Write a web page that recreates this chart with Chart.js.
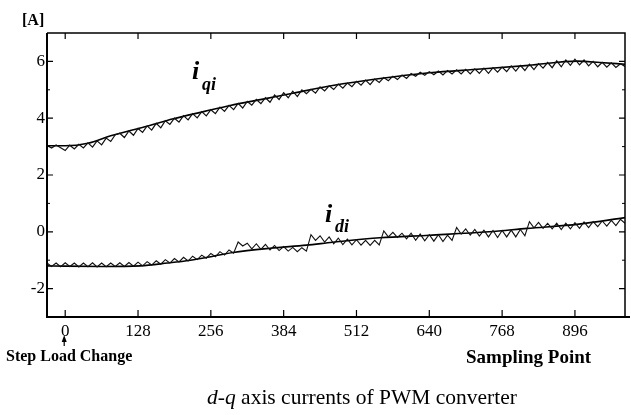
<!DOCTYPE html>
<html lang="en">
<head>
  <meta charset="UTF-8">
  <title>d-q axis currents of PWM converter</title>
  <script src="https://cdn.jsdelivr.net/npm/chart.js"></script>
  <style>
    body {
      margin: 0;
      padding: 0;
      background: #fff;
      overflow: hidden;
    }
    #wrap { width: 631px; height: 415px; }
  </style>
</head>
<body>
  <div id="wrap"><canvas id="chart" width="631" height="415"></canvas></div>

  <script>
    // axis ticks
    const xTicks = [0, 128, 256, 384, 512, 640, 768, 896];
    const yTicks = [-2, 0, 2, 4, 6];
    const yMinor = [-1, 1, 3, 5];

    // sampling points of the measured traces
    const sampleX = [
      -32, -24, -16, -8, 0, 8, 16, 24, 32, 40, 48, 56, 64, 72, 80, 88,
      96, 104, 112, 120, 128, 136, 144, 152, 160, 168, 176, 184, 192, 200, 208, 216,
      224, 232, 240, 248, 256, 264, 272, 280, 288, 296, 304, 312, 320, 328, 336, 344,
      352, 360, 368, 376, 384, 392, 400, 408, 416, 424, 432, 440, 448, 456, 464, 472,
      480, 488, 496, 504, 512, 520, 528, 536, 544, 552, 560, 568, 576, 584, 592, 600,
      608, 616, 624, 632, 640, 648, 656, 664, 672, 680, 688, 696, 704, 712, 720, 728,
      736, 744, 752, 760, 768, 776, 784, 792, 800, 808, 816, 824, 832, 840, 848, 856,
      864, 872, 880, 888, 896, 904, 912, 920, 928, 936, 944, 952, 960, 968, 976, 984
    ];

    // measured q-axis current (with ripple)
    const iqiMeasured = [
      3.05, 2.95, 3.06, 2.96, 2.86, 3.05, 2.92, 3.08, 2.95, 3.13, 2.98, 3.20, 3.06, 3.30, 3.18, 3.42,
      3.47, 3.32, 3.55, 3.40, 3.64, 3.50, 3.73, 3.58, 3.82, 3.66, 3.91, 3.78, 4.00, 3.86, 4.09, 3.94,
      4.16, 4.01, 4.23, 4.08, 4.30, 4.16, 4.39, 4.24, 4.45, 4.30, 4.52, 4.36, 4.59, 4.46, 4.66, 4.51,
      4.72, 4.56, 4.82, 4.66, 4.90, 4.72, 4.95, 4.76, 5.00, 4.86, 5.02, 4.88, 5.10, 4.96, 5.14, 5.01,
      5.20, 5.06, 5.24, 5.11, 5.30, 5.16, 5.34, 5.18, 5.38, 5.26, 5.43, 5.32, 5.48, 5.36, 5.52, 5.40,
      5.57, 5.48, 5.62, 5.51, 5.64, 5.53, 5.66, 5.52, 5.68, 5.56, 5.70, 5.56, 5.72, 5.56, 5.74, 5.58,
      5.76, 5.58, 5.78, 5.62, 5.80, 5.64, 5.84, 5.66, 5.86, 5.68, 5.90, 5.71, 5.92, 5.76, 5.96, 5.78,
      6.02, 5.81, 6.05, 5.86, 6.08, 5.88, 6.05, 5.84, 6.00, 5.81, 5.97, 5.80, 5.95, 5.79, 5.92, 5.82
    ];

    // measured d-axis current (with ripple)
    const idiMeasured = [
      -1.10, -1.22, -1.10, -1.23, -1.09, -1.22, -1.10, -1.24, -1.10, -1.23, -1.09, -1.24, -1.10, -1.23, -1.10, -1.22,
      -1.09, -1.22, -1.08, -1.21, -1.07, -1.20, -1.05, -1.17, -1.02, -1.14, -0.98, -1.10, -0.94, -1.06, -0.90, -1.03,
      -0.86, -0.98, -0.82, -0.93, -0.76, -0.88, -0.70, -0.82, -0.64, -0.75, -0.36, -0.50, -0.40, -0.60, -0.42, -0.62,
      -0.44, -0.64, -0.48, -0.66, -0.52, -0.68, -0.55, -0.70, -0.56, -0.68, -0.10, -0.30, -0.14, -0.36, -0.18, -0.42,
      -0.22, -0.45, -0.26, -0.46, -0.28, -0.47, -0.30, -0.48, -0.30, -0.46, 0.03, -0.18, -0.02, -0.20, -0.05, -0.25,
      -0.05, -0.30, -0.08, -0.32, -0.10, -0.33, -0.10, -0.34, -0.12, -0.30, 0.15, -0.08, 0.10, -0.12, 0.08, -0.15,
      0.06, -0.18, 0.05, -0.20, 0.05, -0.18, 0.06, -0.18, 0.08, -0.14, 0.36, 0.14, 0.33, 0.12, 0.30, 0.10,
      0.30, 0.08, 0.30, 0.10, 0.32, 0.12, 0.35, 0.15, 0.36, 0.18, 0.38, 0.20, 0.40, 0.22, 0.44, 0.30
    ];

    // reference (command) currents, smooth
    const iqiRefX = [-32, 0, 40, 80, 140, 190, 245, 290, 350, 400, 470, 550, 640, 730, 815, 900, 940, 984];
    const iqiRefY = [3.03, 3.03, 3.12, 3.38, 3.70, 3.98, 4.24, 4.45, 4.68, 4.88, 5.15, 5.39, 5.60, 5.73, 5.86, 6.01, 5.96, 5.90];
    const idiRefX = [-32, 0, 64, 132, 180, 220, 260, 295, 360, 424, 470, 553, 640, 745, 812, 903, 984];
    const idiRefY = [-1.20, -1.21, -1.22, -1.20, -1.10, -1.00, -0.86, -0.73, -0.58, -0.47, -0.37, -0.21, -0.12, 0.00, 0.12, 0.27, 0.50];

    const SERIF = '"Liberation Serif", "DejaVu Serif", serif';

    function pairs(xs, ys) {
      return xs.map((x, i) => ({ x: x, y: ys[i] }));
    }

    // box frame, inward ticks and the text labels
    const framePlugin = {
      id: 'frame',
      afterDraw(chart) {
        const ctx = chart.ctx;
        const a = chart.chartArea;
        const xs = chart.scales.x;
        const ys = chart.scales.y;
        ctx.save();
        ctx.strokeStyle = '#000';
        ctx.lineCap = 'butt';

        ctx.lineWidth = 2;
        ctx.beginPath();
        ctx.moveTo(a.left, a.top);
        ctx.lineTo(a.left, a.bottom);
        ctx.lineTo(630, a.bottom);
        ctx.stroke();
        ctx.lineWidth = 1.5;
        ctx.beginPath();
        ctx.moveTo(a.left, a.top);
        ctx.lineTo(a.right, a.top);
        ctx.lineTo(a.right, a.bottom);
        ctx.stroke();

        ctx.lineWidth = 1.2;
        xTicks.forEach(v => {
          const px = xs.getPixelForValue(v);
          ctx.beginPath();
          ctx.moveTo(px, a.bottom);
          ctx.lineTo(px, a.bottom - 7);
          ctx.moveTo(px, a.top);
          ctx.lineTo(px, a.top + 6);
          ctx.stroke();
        });
        yTicks.forEach(v => {
          const py = ys.getPixelForValue(v);
          ctx.beginPath();
          ctx.moveTo(a.left, py);
          ctx.lineTo(a.left + 6, py);
          ctx.moveTo(a.right, py);
          ctx.lineTo(a.right - 6, py);
          ctx.stroke();
        });
        ctx.lineWidth = 1;
        yMinor.forEach(v => {
          const py = ys.getPixelForValue(v);
          ctx.beginPath();
          ctx.moveTo(a.left, py);
          ctx.lineTo(a.left + 3, py);
          ctx.moveTo(a.right, py);
          ctx.lineTo(a.right - 3, py);
          ctx.stroke();
        });

        ctx.fillStyle = '#000';
        ctx.textBaseline = 'alphabetic';
        ctx.textAlign = 'left';

        // unit
        ctx.font = 'bold 16px ' + SERIF;
        ctx.fillText('[A]', 22, 25);

        // series names
        ctx.font = 'italic bold 26px ' + SERIF;
        ctx.fillText('i', 192, 79);
        ctx.font = 'italic bold 18px ' + SERIF;
        ctx.fillText('qi', 202, 90);
        ctx.font = 'italic bold 26px ' + SERIF;
        ctx.fillText('i', 325, 222);
        ctx.font = 'italic bold 18px ' + SERIF;
        ctx.fillText('di', 335, 232);

        // step load change marker
        const x0 = xs.getPixelForValue(0) - 1;
        ctx.lineWidth = 1.2;
        ctx.beginPath();
        ctx.moveTo(x0, 346);
        ctx.lineTo(x0, 340);
        ctx.stroke();
        ctx.beginPath();
        ctx.moveTo(x0, 335);
        ctx.lineTo(x0 - 2.5, 342);
        ctx.lineTo(x0 + 2.5, 342);
        ctx.closePath();
        ctx.fill();

        ctx.font = 'bold 16px ' + SERIF;
        ctx.fillText('Step Load Change', 6, 361);

        ctx.font = 'bold 19px ' + SERIF;
        ctx.fillText('Sampling Point', 466, 363);

        // caption
        ctx.font = 'italic 21.5px ' + SERIF;
        const part1 = 'd-q';
        const w1 = ctx.measureText(part1).width;
        ctx.font = '21.5px ' + SERIF;
        const part2 = ' axis currents of PWM converter';
        const w2 = ctx.measureText(part2).width;
        const cx = 362 - (w1 + w2) / 2;
        ctx.font = 'italic 21.5px ' + SERIF;
        ctx.fillText(part1, cx, 404);
        ctx.font = '21.5px ' + SERIF;
        ctx.fillText(part2, cx + w1, 404);

        ctx.restore();
      }
    };

    const ctx = document.getElementById('chart').getContext('2d');
    new Chart(ctx, {
      type: 'line',
      data: {
        datasets: [
          {
            label: 'iqi measured',
            data: pairs(sampleX, iqiMeasured),
            borderColor: '#111',
            borderWidth: 1.2,
            pointRadius: 0,
            tension: 0
          },
          {
            label: 'iqi reference',
            data: pairs(iqiRefX, iqiRefY),
            borderColor: '#000',
            borderWidth: 1.6,
            pointRadius: 0,
            cubicInterpolationMode: 'monotone'
          },
          {
            label: 'idi measured',
            data: pairs(sampleX, idiMeasured),
            borderColor: '#111',
            borderWidth: 1.1,
            pointRadius: 0,
            tension: 0
          },
          {
            label: 'idi reference',
            data: pairs(idiRefX, idiRefY),
            borderColor: '#000',
            borderWidth: 1.6,
            pointRadius: 0,
            cubicInterpolationMode: 'monotone'
          }
        ]
      },
      options: {
        responsive: false,
        animation: false,
        devicePixelRatio: 1,
        layout: { padding: { top: 33, right: 6, left: 0, bottom: 0 } },
        plugins: {
          legend: { display: false },
          tooltip: { enabled: false }
        },
        scales: {
          x: {
            type: 'linear',
            min: -32,
            max: 984,
            afterBuildTicks: s => { s.ticks = xTicks.map(v => ({ value: v })); },
            afterFit: s => { s.height = 98; },
            grid: { display: false, drawTicks: false },
            border: { display: false },
            ticks: {
              autoSkip: false,
              maxRotation: 0,
              padding: 4,
              color: '#000',
              font: { family: SERIF, size: 17 }
            }
          },
          y: {
            min: -3,
            max: 7,
            afterBuildTicks: s => { s.ticks = yTicks.map(v => ({ value: v })); },
            afterFit: s => { s.width = 47; },
            grid: { display: false, drawTicks: false },
            border: { display: false },
            ticks: {
              padding: 2,
              color: '#000',
              font: { family: SERIF, size: 17 }
            }
          }
        }
      },
      plugins: [framePlugin]
    });
  </script>
</body>
</html>
